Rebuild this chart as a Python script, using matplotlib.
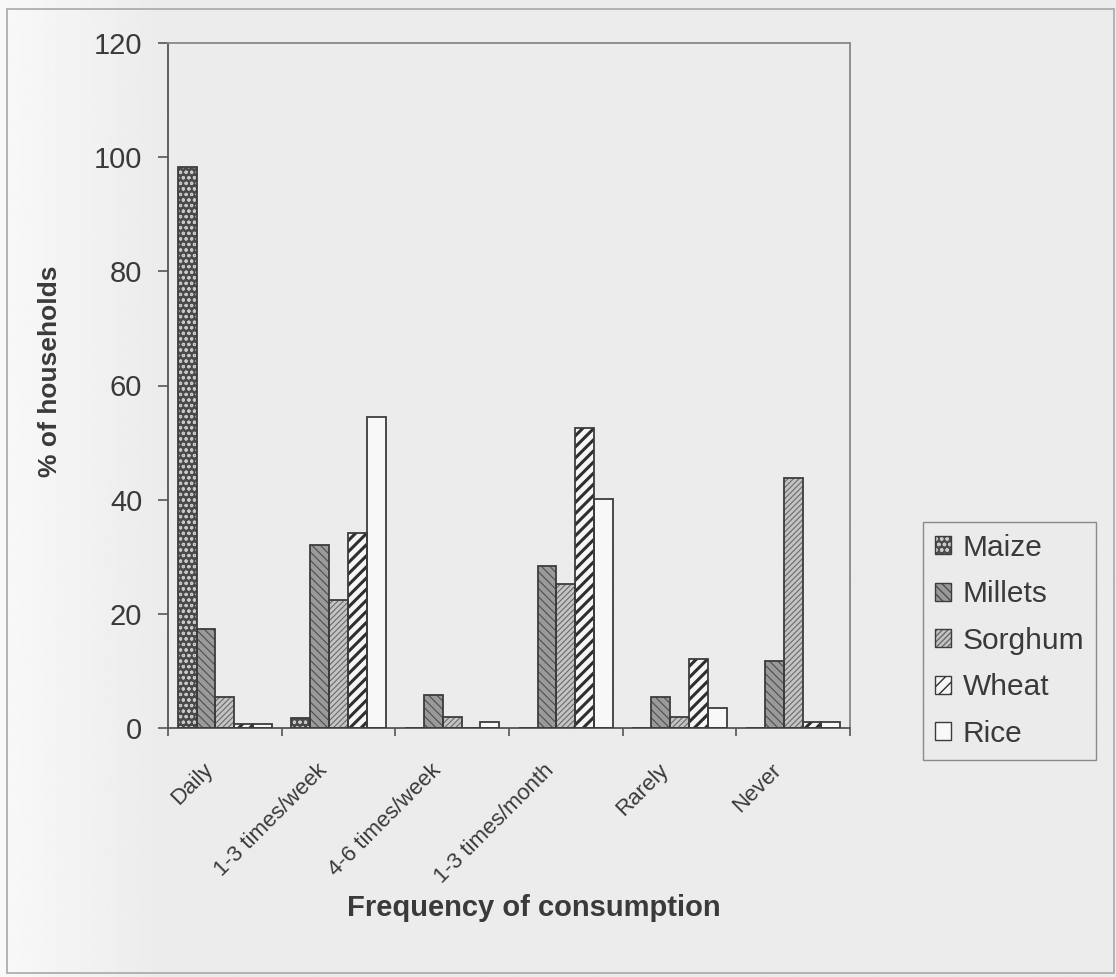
import matplotlib
matplotlib.use("Agg")
import matplotlib.pyplot as plt
import matplotlib.transforms as mtransforms
import numpy as np
from matplotlib.patches import Patch, Rectangle
from matplotlib.legend_handler import HandlerTuple

plt.rcParams['font.family'] = ['Liberation Sans', 'DejaVu Sans']

categories = ["Daily", "1-3 times/week", "4-6 times/week",
              "1-3 times/month", "Rarely", "Never"]
maize = [98.2, 1.8, 0.0, 0.0, 0.0, 0.0]
millets = [17.4, 32.0, 5.7, 28.3, 5.4, 11.8]
sorghum = [5.5, 22.4, 1.9, 25.3, 1.9, 43.8]
wheat = [0.7, 34.2, 0.0, 52.6, 12.1, 1.0]
rice = [0.7, 54.4, 1.1, 40.2, 3.5, 1.0]
y_ticks = [0, 20, 40, 60, 80, 100, 120]

series = [
    ("Maize", maize, '#4a4a4a', '#c8c8c8', 'ooo', 0.8),
    ("Millets", millets, '#9a9a9a', '#4e4e4e', '\\\\\\\\', 0.8),
    ("Sorghum", sorghum, '#c4c4c4', '#6a6a6a', '//////', 0.8),
    ("Wheat", wheat, '#f6f6f6', '#2e2e2e', '///', 2.2),
    ("Rice", rice, '#f8f8f8', None, None, 1.0),
]

bg = '#ebebeb'
edge = '#3c3c3c'
text_c = '#3a3a3a'

fig = plt.figure(figsize=(11.16, 9.77), dpi=100, facecolor=bg)

# scanner-like lighter band on the left side of the page
bgax = fig.add_axes([0, 0, 1, 1], zorder=-10)
grad = np.clip(0.975 - np.linspace(0, 1, 400) * 0.36, 0.922, 1)[None, :]
bgax.imshow(grad, aspect='auto', cmap='gray', vmin=0, vmax=1, extent=[0, 1, 0, 1])
bgax.set_axis_off()

ax = fig.add_axes([168 / 1116, 1 - 728 / 977, 682 / 1116, 685 / 977])
ax.set_facecolor('none')

x = np.arange(len(categories))
w = 0.166
handles = []
labels = []
for i, (name, vals, fc, hc, hatch, hlw) in enumerate(series):
    pos = x + (i - 2) * w
    plt.rcParams['hatch.linewidth'] = hlw
    if hatch is not None:
        plt.rcParams['hatch.color'] = hc
        bars = ax.bar(pos, vals, w, color=fc, hatch=hatch, edgecolor=hc, linewidth=0, zorder=2)
        for b in bars:
            if hasattr(b, 'set_hatch_linewidth'):
                b.set_hatch_linewidth(hlw)
        h1 = Patch(facecolor=fc, edgecolor=hc, hatch=hatch, linewidth=0)
        if hasattr(h1, 'set_hatch_linewidth'):
            h1.set_hatch_linewidth(hlw * 0.7)
    else:
        ax.bar(pos, vals, w, color=fc, linewidth=0, zorder=2)
        h1 = Patch(facecolor=fc, linewidth=0)
    ax.bar(pos, vals, w, fill=False, edgecolor=edge, linewidth=1.3, zorder=3)
    h2 = Patch(fill=False, edgecolor=edge, linewidth=1.0)
    handles.append((h1, h2))
    labels.append(name)

ax.set_xlim(-0.5, len(categories) - 0.5)
ax.set_ylim(0, 120)
ax.set_yticks(y_ticks)
ax.tick_params(axis='y', labelsize=21, colors='#555555', labelcolor=text_c,
               length=7.5, width=1.2, pad=11)

ax.set_xticks(x)
ax.set_xticklabels(categories, rotation=45, ha='right', rotation_mode='anchor',
                   fontsize=16, color=text_c)
ax.set_xticks(np.arange(-0.5, len(categories)), minor=True)
ax.tick_params(axis='x', which='major', length=0, pad=14)
ax.tick_params(axis='x', which='minor', length=6, width=1.2, colors='#555555')
shift = mtransforms.ScaledTranslation(-22 / 100, -12 / 100, fig.dpi_scale_trans)
for lab in ax.get_xticklabels():
    lab.set_transform(lab.get_transform() + shift)

for side in ['left', 'bottom', 'top', 'right']:
    ax.spines[side].set_color('#555555')
    ax.spines[side].set_linewidth(1.3)
ax.spines['top'].set_color('#888888')
ax.spines['right'].set_color('#888888')

fig.text(50 / 1116, 1 - 371 / 977, "% of households", rotation=90, ha='center', va='center',
         fontsize=19, fontweight='bold', color=text_c)
fig.text(534 / 1116, 1 - 908 / 977, "Frequency of consumption", ha='center', va='center',
         fontsize=21, fontweight='bold', color=text_c)

leg = fig.legend(handles, labels, handler_map={tuple: HandlerTuple(ndivide=1)},
                 loc='upper left', bbox_to_anchor=(923 / 1116, 1 - 522 / 977),
                 bbox_transform=fig.transFigure, borderaxespad=0,
                 fontsize=21.5, frameon=True, fancybox=False, facecolor=bg, framealpha=1,
                 edgecolor='#8a8a8a', handlelength=0.55, handleheight=0.55,
                 handletextpad=0.38, labelspacing=0.62, borderpad=0.4)
for t in leg.get_texts():
    t.set_color(text_c)

fig.patches.append(Rectangle((7 / 1116, 1 - 973 / 977), 1107 / 1116, 964 / 977,
                             transform=fig.transFigure, fill=False,
                             edgecolor='#a8a8a8', linewidth=1.2))

fig.savefig("out.png", dpi=100, facecolor=bg)
